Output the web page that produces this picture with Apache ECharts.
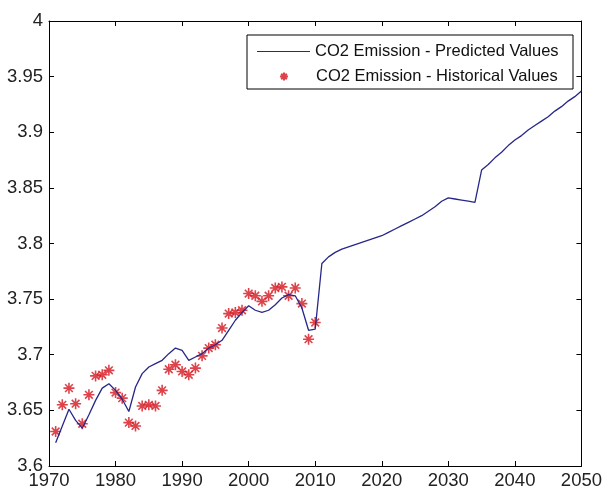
<!DOCTYPE html>
<html><head><meta charset="utf-8">
<script src="https://cdn.jsdelivr.net/npm/echarts@6/dist/echarts.min.js"></script>
<style>html,body{margin:0;padding:0;background:#fff}#c{width:605px;height:494px}</style>
</head><body><div id="c"></div>
<script>
const histYears = [1971,1972,1973,1974,1975,1976,1977,1978,1979,1980,1981,1982,1983,1984,1985,1986,1987,1988,1989,1990,1991,1992,1993,1994,1995,1996,1997,1998,1999,2000,2001,2002,2003,2004,2005,2006,2007,2008,2009,2010];
const histValues = [3.631,3.655,3.670,3.656,3.638,3.664,3.681,3.682,3.686,3.666,3.661,3.639,3.636,3.654,3.655,3.654,3.668,3.687,3.691,3.685,3.682,3.688,3.699,3.706,3.709,3.724,3.737,3.738,3.740,3.755,3.753,3.748,3.753,3.760,3.761,3.753,3.760,3.746,3.714,3.729];
const predYears = [];
for (let y = 1971; y <= 2050; y++) predYears.push(y);
const predValues = [3.621,3.636,3.651,3.641,3.634,3.646,3.659,3.670,3.674,3.668,3.660,3.649,3.671,3.683,3.689,3.692,3.695,3.701,3.706,3.704,3.695,3.698,3.701,3.706,3.709,3.713,3.722,3.731,3.738,3.744,3.740,3.738,3.740,3.745,3.751,3.754,3.753,3.742,3.722,3.723,3.782,3.788,3.792,3.795,3.797,3.799,3.801,3.803,3.805,3.807,3.810,3.813,3.816,3.819,3.822,3.825,3.829,3.833,3.838,3.841,3.840,3.839,3.838,3.837,3.866,3.871,3.877,3.882,3.888,3.893,3.897,3.902,3.906,3.910,3.914,3.919,3.923,3.928,3.932,3.937];
const xTicks = [1970,1980,1990,2000,2010,2020,2030,2040,2050];
const yTicks = [3.6,3.65,3.7,3.75,3.8,3.85,3.9,3.95,4];
const predName = 'CO2 Emission - Predicted Values';
const histName = 'CO2 Emission - Historical Values';

const starPath = 'path://M5,0 L5,10 M0,5 L10,5 M1.5,1.5 L8.5,8.5 M1.5,8.5 L8.5,1.5';
const font = 'Liberation Sans, Arial, sans-serif';
const tickFont = 'Liberation Sans Narrow, Liberation Sans, Arial, sans-serif';
const chart = echarts.init(document.getElementById('c'), null, {renderer:'canvas'});
const axisCommon = {
  axisLine:{show:true, onZero:false, lineStyle:{color:'#000', width:1}},
  axisTick:{show:true, inside:true, length:5, lineStyle:{color:'#000'}},
  splitLine:{show:false}
};
chart.setOption({
  backgroundColor:'#fff',
  animation:false,
  grid:{left:49, top:21, right:18, bottom:28, containLabel:false},
  xAxis:[
    Object.assign({type:'value', min:xTicks[0], max:xTicks[xTicks.length-1], interval:10, position:'bottom',
      axisLabel:{color:'#222', fontSize:18.5, fontFamily:tickFont, margin:5, formatter:v=>String(v)}}, axisCommon),
    Object.assign({type:'value', min:xTicks[0], max:xTicks[xTicks.length-1], interval:10, position:'top',
      axisLabel:{show:false}}, axisCommon)
  ],
  yAxis:[
    Object.assign({type:'value', min:yTicks[0], max:yTicks[yTicks.length-1], interval:0.05, position:'left',
      axisLabel:{color:'#222', fontSize:18.5, fontFamily:tickFont, margin:6, formatter:v=>String(Math.round(v*100)/100)}}, axisCommon),
    Object.assign({type:'value', min:yTicks[0], max:yTicks[yTicks.length-1], interval:0.05, position:'right',
      axisLabel:{show:false}}, axisCommon)
  ],
  legend:[
    {data:[{name:predName, icon:'path://M0,0 L53,0 L53,1 L0,1 Z'}], left:257, top:43, itemWidth:53, itemHeight:1,
      textStyle:{fontSize:16.5, fontFamily:font, color:'#111'}, itemGap:0, padding:0},
    {data:[{name:histName, icon:starPath}], left:279, top:68, itemWidth:8, itemHeight:8,
      textStyle:{fontSize:16.5, fontFamily:font, color:'#111', padding:[0,0,0,23]}, padding:0}
  ],
  graphic:[{type:'rect', shape:{x:247, y:35, width:326, height:54}, style:{fill:'none', stroke:'#000', lineWidth:1}, z:-1}],
  series:[
    {name:predName, type:'line', data:predYears.map((y,i)=>[y,predValues[i]]), showSymbol:false, symbol:'none',
      lineStyle:{color:'#27278a', width:1.3}, itemStyle:{color:'#27278a'}},
    {name:histName, type:'scatter', data:histYears.map((y,i)=>[y,histValues[i]]), symbol:starPath, symbolSize:11,
      itemStyle:{color:'#d4141e', borderColor:'#d4141e', borderWidth:1.6}}
  ]
});
</script></body></html>
